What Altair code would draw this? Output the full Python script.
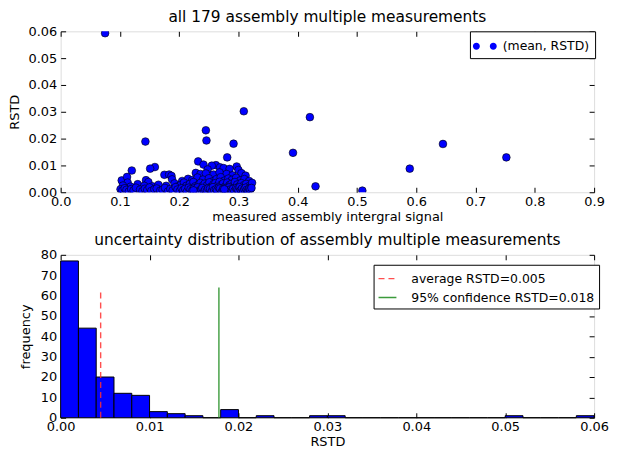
import altair as alt
import pandas as pd

FONT = "DejaVu Sans"

# ---------------- scatter data: (mean signal, RSTD) ----------------
signal = [
    0.075, 0.894, 0.309, 0.4205, 0.245, 0.246, 0.143, 0.2917, 0.645, 0.392,
    0.281, 0.752, 0.232, 0.241, 0.589, 0.43, 0.509,
    0.262,
    0.297, 0.159, 0.151, 0.120, 0.269, 0.255, 0.275, 0.285, 0.300, 0.248,
    0.175, 0.183, 0.187, 0.228, 0.236, 0.245, 0.258, 0.268, 0.280, 0.290, 0.305, 0.312,
    0.103, 0.112, 0.144, 0.188, 0.205, 0.215, 0.222, 0.231, 0.240, 0.250,
    0.257, 0.263, 0.270, 0.276, 0.283, 0.289, 0.296, 0.303, 0.310, 0.318,
    0.113, 0.148, 0.105, 0.118, 0.130, 0.141, 0.155, 0.165, 0.178, 0.192,
    0.198, 0.203, 0.208, 0.212, 0.218, 0.224, 0.227, 0.233, 0.236, 0.239,
    0.243, 0.247, 0.251, 0.254, 0.258, 0.261, 0.265, 0.268, 0.271, 0.274,
    0.278, 0.281, 0.285, 0.288, 0.291, 0.294, 0.298, 0.301, 0.305, 0.309,
    0.313, 0.318, 0.323,
    0.101, 0.104, 0.108, 0.111, 0.115, 0.119, 0.123, 0.127, 0.134, 0.138,
    0.142, 0.146, 0.150, 0.153, 0.158, 0.162, 0.168, 0.172, 0.176, 0.181,
    0.185, 0.189, 0.194, 0.197, 0.201, 0.204, 0.207, 0.210, 0.213, 0.216,
    0.219, 0.222, 0.225, 0.228, 0.231, 0.234, 0.237, 0.239, 0.242, 0.244,
    0.247, 0.249, 0.252, 0.255, 0.257, 0.259, 0.262, 0.264, 0.267, 0.269,
    0.272, 0.274, 0.277, 0.279, 0.282, 0.284, 0.286, 0.289, 0.291, 0.293,
    0.296, 0.298, 0.300, 0.302, 0.304, 0.306, 0.308, 0.310, 0.312, 0.314,
    0.316, 0.318, 0.320, 0.322, 0.224, 0.276,
]
rstd = [
    0.0593, 0.0513, 0.0302, 0.0280, 0.0231, 0.0193, 0.0189, 0.0181, 0.0180, 0.0147,
    0.0130, 0.0130, 0.0115, 0.0103, 0.0088, 0.0022, 0.0006,
    0.0101,
    0.0096, 0.0094, 0.0088, 0.0081, 0.0093, 0.0099, 0.0090, 0.0087, 0.0083, 0.0085,
    0.0065, 0.0066, 0.0061, 0.0072, 0.0068, 0.0070, 0.0066, 0.0074, 0.0068, 0.0063, 0.0071, 0.0062,
    0.0044, 0.0057, 0.0045, 0.0048, 0.0042, 0.0050, 0.0045, 0.0055, 0.0047, 0.0052,
    0.0041, 0.0049, 0.0056, 0.0043, 0.0051, 0.0046, 0.0054, 0.0044, 0.0049, 0.0042,
    0.0036, 0.0038, 0.0025, 0.0021, 0.0030, 0.0024, 0.0022, 0.0028, 0.0024, 0.0033,
    0.0022, 0.0028, 0.0036, 0.0024, 0.0031, 0.0038, 0.0022, 0.0029, 0.0035, 0.0023,
    0.0032, 0.0026, 0.0037, 0.0021, 0.0030, 0.0034, 0.0025, 0.0039, 0.0028, 0.0033,
    0.0022, 0.0036, 0.0027, 0.0031, 0.0024, 0.0038, 0.0029, 0.0022, 0.0034, 0.0026,
    0.0031, 0.0023, 0.0035,
    0.0011, 0.0006, 0.0015, 0.0009, 0.0003, 0.0012, 0.0007, 0.0017, 0.0010, 0.0004,
    0.0013, 0.0008, 0.0018, 0.0005, 0.0011, 0.0014, 0.0006, 0.0009, 0.0016, 0.0003,
    0.0012, 0.0007, 0.0019, 0.0010, 0.0004, 0.0015, 0.0008, 0.0013, 0.0002, 0.0017,
    0.0011, 0.0006, 0.0014, 0.0009, 0.0018, 0.0005, 0.0012, 0.0016, 0.0003, 0.0010,
    0.0007, 0.0015, 0.0013, 0.0004, 0.0019, 0.0008, 0.0011, 0.0006, 0.0017, 0.0014,
    0.0002, 0.0012, 0.0009, 0.0016, 0.0005, 0.0018, 0.0010, 0.0007, 0.0013, 0.0003,
    0.0015, 0.0011, 0.0006, 0.0019, 0.0008, 0.0014, 0.0004, 0.0012, 0.0017, 0.0009,
    0.0005, 0.0013, 0.0010, 0.0016, 0.0007, 0.0011,
]

# ---------------- histogram of RSTD ----------------
bin_lo = [0.000, 0.002, 0.004, 0.006, 0.008, 0.010, 0.012, 0.014, 0.016, 0.018,
          0.020, 0.022, 0.024, 0.026, 0.028, 0.030, 0.032, 0.034, 0.036, 0.038,
          0.040, 0.042, 0.044, 0.046, 0.048, 0.050, 0.052, 0.054, 0.056, 0.058]
bin_hi = [0.002, 0.004, 0.006, 0.008, 0.010, 0.012, 0.014, 0.016, 0.018, 0.020,
          0.022, 0.024, 0.026, 0.028, 0.030, 0.032, 0.034, 0.036, 0.038, 0.040,
          0.042, 0.044, 0.046, 0.048, 0.050, 0.052, 0.054, 0.056, 0.058, 0.060]
bin_count = [77, 44, 20, 12, 11, 3, 2, 1, 0, 4,
             0, 1, 0, 0, 1, 1, 0, 0, 0, 0,
             0, 0, 0, 0, 0, 1, 0, 0, 0, 1]

# ---------------- reference lines ----------------
line_label = ["average RSTD=0.005", "95% confidence RSTD=0.018"]
line_x = [0.0045, 0.0178]
line_top = [62, 64]
line_colors = ["#ff3030", "#1a8a1a"]

# tick values
top_x_ticks = [0.0, 0.1, 0.2, 0.3, 0.4, 0.5, 0.6, 0.7, 0.8, 0.9]
top_y_ticks = [0.0, 0.01, 0.02, 0.03, 0.04, 0.05, 0.06]
bot_x_ticks = [0.0, 0.01, 0.02, 0.03, 0.04, 0.05, 0.06]
bot_y_ticks = [0, 10, 20, 30, 40, 50, 60, 70, 80]

scatter_df = pd.DataFrame({"signal": signal, "rstd": rstd})
scatter_df["series"] = "(mean, RSTD)"
hist_df = pd.DataFrame({"lo": bin_lo, "hi": bin_hi, "count": bin_count})
line_df = pd.DataFrame({"label": line_label, "x": line_x, "top": line_top})
line_df["y0"] = 0

AX = dict(domain=False, grid=False, tickSize=5, tickColor="black", tickWidth=1,
          offset=-5, labelFont=FONT, labelFontSize=13, labelColor="black",
          titleFont=FONT, titleFontSize=13, titleColor="black",
          titleFontWeight="normal", labelFlush=False,
          labelOverlap=False, labelBound=False)
AX_HIDDEN = dict(domain=False, grid=False, tickSize=5, tickColor="black", tickWidth=1,
                 offset=-5, labels=False, title=None)

W = 537

# ---------------- top chart ----------------
xs_top = alt.Scale(domain=[0, 0.9], nice=False, zero=False)
ys_top = alt.Scale(domain=[0, 0.06], nice=False, zero=False)

two_dots = ("M -1.2 0 A 0.35 0.35 0 1 0 -0.5 0 A 0.35 0.35 0 1 0 -1.2 0 Z "
            "M 0.5 0 A 0.35 0.35 0 1 0 1.2 0 A 0.35 0.35 0 1 0 0.5 0 Z")

pts = alt.Chart(scatter_df).mark_point(
    filled=True, size=60, stroke="black", strokeWidth=0.6, opacity=1, clip=True
).encode(
    x=alt.X("signal:Q", scale=xs_top,
            axis=alt.Axis(values=top_x_ticks, format=".1f", labelPadding=3,
                          title="measured assembly intergral signal", titlePadding=2, **AX)),
    y=alt.Y("rstd:Q", scale=ys_top,
            axis=alt.Axis(values=top_y_ticks, format=".2f", title="RSTD", labelPadding=4,
                          titlePadding=6, **AX)),
    fill=alt.Fill("series:N", scale=alt.Scale(range=["#0000ff"]),
                  legend=alt.Legend(title=None, orient="none", legendX=412, legendY=0,
                                    symbolType=two_dots, symbolSize=400,
                                    symbolStrokeWidth=0, symbolFillColor="#0000ff",
                                    labelFont=FONT, labelFontSize=12.5, labelColor="black",
                                    strokeColor="black", fillColor="white",
                                    padding=5, cornerRadius=0, labelOffset=8)),
)
pts_axes = alt.Chart(scatter_df).mark_point(opacity=0).encode(
    x=alt.X("signal:Q", scale=xs_top,
            axis=alt.Axis(values=top_x_ticks, orient="top", **AX_HIDDEN)),
    y=alt.Y("rstd:Q", scale=ys_top,
            axis=alt.Axis(values=top_y_ticks, orient="right", **AX_HIDDEN)),
)
top = alt.layer(pts, pts_axes).resolve_axis(x="independent", y="independent").properties(
    width=W, height=162,
    title=alt.TitleParams("all 179 assembly multiple measurements", font=FONT,
                          fontSize=15.5, fontWeight="normal", color="black", offset=0),
)

# ---------------- bottom chart ----------------
xs_bot = alt.Scale(domain=[0, 0.06], nice=False, zero=False)
ys_bot = alt.Scale(domain=[0, 80], nice=False, zero=False)

bars = alt.Chart(hist_df).mark_rect(
    fill="#0000ff", stroke="black", strokeWidth=1
).encode(
    x=alt.X("lo:Q", scale=xs_bot,
            axis=alt.Axis(values=bot_x_ticks, format=".2f", title="RSTD", labelPadding=3,
                          titlePadding=2, **AX)),
    x2="hi:Q",
    y=alt.Y("count:Q", scale=ys_bot,
            axis=alt.Axis(values=bot_y_ticks, format="d", title="frequency", labelPadding=4,
                          titlePadding=8, **AX)),
    y2=alt.datum(0),
)
line_legend = alt.Legend(title=None, orient="none", legendX=315, legendY=10,
                         symbolType="stroke", symbolSize=324, symbolStrokeWidth=1.4,
                         labelFont=FONT, labelFontSize=12.5, labelColor="black",
                         labelLimit=400,
                         strokeColor="black", fillColor="white",
                         padding=4, cornerRadius=0, rowPadding=2, labelOffset=14)
rules = alt.Chart(line_df).mark_rule(strokeWidth=1.4, opacity=0.85).encode(
    x=alt.X("x:Q", scale=xs_bot, axis=None),
    y=alt.Y("y0:Q", scale=ys_bot, axis=None),
    y2="top:Q",
    color=alt.Color("label:N", sort=line_label,
                    scale=alt.Scale(domain=line_label, range=line_colors),
                    legend=line_legend),
    strokeDash=alt.StrokeDash("label:N", sort=line_label,
                              scale=alt.Scale(domain=line_label, range=[[6, 4], [1, 0]]),
                              legend=line_legend),
)
bar_axes = alt.Chart(hist_df).mark_point(opacity=0).encode(
    x=alt.X("lo:Q", scale=xs_bot,
            axis=alt.Axis(values=bot_x_ticks, orient="top", **AX_HIDDEN)),
    y=alt.Y("count:Q", scale=ys_bot,
            axis=alt.Axis(values=bot_y_ticks, orient="right", **AX_HIDDEN)),
)
bottom = alt.layer(bars, rules, bar_axes).resolve_axis(x="independent", y="independent").properties(
    width=W, height=164,
    title=alt.TitleParams("uncertainty distribution of assembly multiple measurements",
                          font=FONT, fontSize=15.5, fontWeight="normal", color="black", offset=0),
)

chart = alt.vconcat(top, bottom, spacing=9).resolve_legend(
    fill="independent", color="independent", strokeDash="independent"
).properties(
    padding={"left": 0, "top": 0, "right": 0, "bottom": 0}
).configure_view(stroke="black", strokeWidth=1).configure(background="white")

chart.save("out.html", embed_options={"renderer": "svg", "actions": False})
